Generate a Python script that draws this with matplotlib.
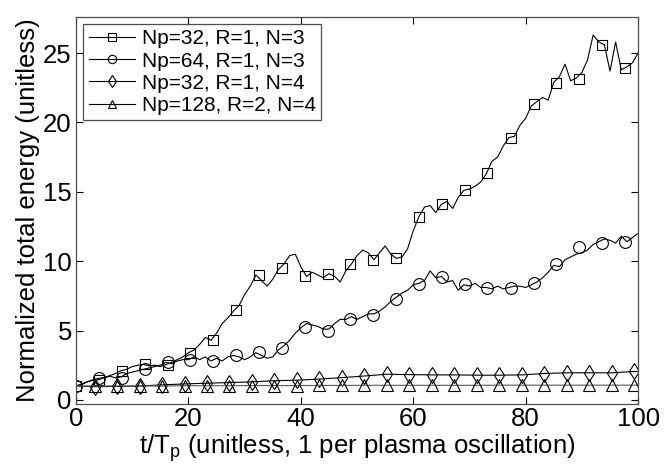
import matplotlib
matplotlib.use("Agg")
import matplotlib.pyplot as plt
from matplotlib.lines import Line2D

plt.rcParams["font.family"] = ["Liberation Sans", "DejaVu Sans"]
plt.rcParams["mathtext.fontset"] = "custom"
plt.rcParams["mathtext.rm"] = "Liberation Sans"
plt.rcParams["mathtext.it"] = "Liberation Sans"

# time axis for the noisy curves (1 sample per plasma period)
t_fine = list(range(0, 101))

energy_np32_n3 = [
    1.0, 1.1, 1.3, 1.4, 1.45, 1.6, 1.75, 1.9, 2.1, 2.2,
    2.4, 2.5, 2.55, 2.45, 2.5, 2.4, 2.55, 2.7, 2.9, 3.1,
    3.4, 3.6, 4.0, 4.5, 4.3, 4.8, 5.5, 5.9, 6.4, 6.8,
    7.6, 8.2, 9.0, 8.6, 8.2, 8.7, 9.4, 9.8, 10.4, 10.5,
    9.6, 8.9, 9.2, 9.0, 8.8, 9.1, 8.9, 8.5, 9.3, 9.8,
    10.4, 10.8, 10.6, 10.1, 10.6, 11.1, 10.5, 10.2, 10.3, 10.9,
    12.2, 13.2, 13.9, 14.0, 13.5, 14.1, 14.3, 13.8, 14.6, 15.1,
    15.2, 15.4, 15.7, 16.3, 17.2, 17.5, 18.3, 18.9, 19.0, 19.8,
    20.3, 21.2, 21.5, 21.8, 21.6, 22.9, 23.3, 24.2, 23.0, 23.2,
    23.6, 24.5, 26.3, 25.8, 25.6, 23.7, 25.8, 23.8, 24.0, 24.3,
    25.0,
]

energy_np64_n3 = [
    1.0, 1.15, 1.3, 1.45, 1.55, 1.6, 1.7, 1.6, 1.65, 1.9,
    2.0, 2.1, 2.2, 2.3, 2.4, 2.5, 2.7, 2.6, 2.8, 2.9,
    2.9, 3.1, 2.9, 3.1, 2.8, 3.0, 2.8, 3.1, 3.2, 3.1,
    2.9, 3.1, 3.4, 3.2, 3.0, 3.1, 3.6, 3.9, 4.3, 4.8,
    5.2, 5.5, 5.4, 5.3, 5.1, 5.1, 5.5, 5.8, 5.8, 6.0,
    5.8, 6.0, 6.2, 6.2, 6.4, 6.7, 7.1, 7.4, 7.7, 7.9,
    8.3, 8.4, 8.6, 9.3, 8.8, 8.9, 8.5, 8.6, 7.9, 8.3,
    8.2, 8.4, 8.1, 8.1, 8.0, 8.2, 8.0, 8.1, 8.2, 8.2,
    8.1, 8.3, 8.5, 8.8, 9.2, 9.7, 9.6, 10.1, 10.3, 10.5,
    10.6, 10.8, 11.2, 11.4, 11.6, 11.5, 11.3, 11.8, 11.4, 11.7,
    12.0,
]

# marker samples for the two N=3 runs
t_mark_n3 = [0, 4.07, 8.1, 12.2, 16.3, 20.3, 24.4, 28.5, 32.6, 36.6, 40.7,
             44.8, 48.8, 52.9, 56.9, 61.0, 65.1, 69.2, 73.2, 77.3, 81.4,
             85.4, 89.5, 93.6, 97.7]
mark_np32_n3 = [1.0, 1.4, 2.1, 2.55, 2.5, 3.4, 4.3, 6.5, 9.0, 9.5, 8.95,
                9.1, 9.8, 10.05, 10.25, 13.2, 14.1, 15.1, 16.35, 18.9, 21.3,
                22.85, 23.15, 25.6, 23.9]
mark_np64_n3 = [1.0, 1.55, 1.6, 2.2, 2.75, 2.9, 2.8, 3.25, 3.45, 3.75, 5.25,
                5.0, 5.8, 6.1, 7.3, 8.35, 8.85, 8.35, 8.05, 8.1, 8.4,
                9.8, 11.0, 11.3, 11.35]

# N=4 runs (smooth curves, sampled at the markers)
t_n4 = [0, 3.3, 7.3, 11.3, 15.3, 19.3, 23.3, 27.3, 31.3, 35.3, 39.3, 43.3,
        47.3, 51.3, 55.3, 59.3, 63.3, 67.3, 71.3, 75.3, 79.3, 83.3, 87.3,
        91.3, 95.3, 99.3, 100]
energy_np32_n4 = [1.0, 0.95, 0.97, 1.0, 1.08, 1.15, 1.2, 1.25, 1.3, 1.38,
                  1.42, 1.5, 1.6, 1.72, 1.85, 1.82, 1.8, 1.8, 1.78, 1.78,
                  1.8, 1.9, 1.95, 1.95, 1.95, 2.05, 2.05]
energy_np128_n4 = [1.0, 1.0, 1.0, 1.0, 1.0, 1.02, 1.02, 1.02, 1.03, 1.03,
                   1.03, 1.04, 1.04, 1.05, 1.05, 1.05, 1.05, 1.05, 1.05, 1.06,
                   1.06, 1.06, 1.06, 1.06, 1.06, 1.06, 1.06]

labels = ["Np=32, R=1, N=3", "Np=64, R=1, N=3", "Np=32, R=1, N=4", "Np=128, R=2, N=4"]
markers = ["s", "o", "d", "^"]

fig = plt.figure(figsize=(6.64, 4.72), dpi=100)
ax = fig.add_axes([0.1145, 0.144, 0.8465, 0.82])

lw = 0.8
ms = 6.5
mk = dict(linestyle="none", markerfacecolor="none", markeredgecolor="black",
          markeredgewidth=0.8, markersize=ms)

ax.plot(t_fine, energy_np32_n3, color="black", lw=lw)
ax.plot(t_mark_n3, mark_np32_n3, marker="s", **mk)
ax.plot(t_fine, energy_np64_n3, color="black", lw=lw)
ax.plot(t_mark_n3, mark_np64_n3, marker="o", markersize=ms + 2,
        linestyle="none", markerfacecolor="none", markeredgecolor="black",
        markeredgewidth=0.8)
ax.plot(t_n4, energy_np32_n4, color="black", lw=lw, marker="d",
        markevery=slice(1, 26), markerfacecolor="none", markeredgecolor="black",
        markeredgewidth=0.8, markersize=ms + 1.5)
ax.plot(t_n4, energy_np128_n4, color="0.35", lw=lw, marker="^",
        markevery=slice(1, 26), markerfacecolor="none", markeredgecolor="black",
        markeredgewidth=0.8, markersize=ms + 1.5)

ax.set_xlim(0, 100)
ax.set_ylim(-0.3, 27.6)
ax.set_xticks([0, 20, 40, 60, 80, 100])
ax.set_yticks([0, 5, 10, 15, 20, 25])
ax.tick_params(direction="in", length=5, width=0.8, top=True, right=True,
               labelsize=18.5, colors="black")
ax.tick_params(axis="x", pad=2)
ax.tick_params(axis="y", pad=3)
for s in ax.spines.values():
    s.set_color("0.3")
    s.set_linewidth(0.9)

ax.set_xlabel("t/T$_\\mathregular{p}$ (unitless, 1 per plasma oscillation)",
              fontsize=18.5, labelpad=1)
ax.set_ylabel("Normalized total energy (unitless)", fontsize=18.5, labelpad=2)

handles = [Line2D([], [], color="black", lw=lw, marker=m, markerfacecolor="none",
                  markeredgecolor="black", markeredgewidth=0.8, markersize=6)
           for m in markers]
leg = ax.legend(handles, labels, loc="upper left", fontsize=15, frameon=True,
                fancybox=False, edgecolor="0.3", framealpha=1,
                borderaxespad=0.35, handlelength=2.25, handletextpad=0.3,
                labelspacing=0.15, borderpad=0.25)
leg.get_frame().set_linewidth(0.9)

fig.savefig("out.png", dpi=100)
